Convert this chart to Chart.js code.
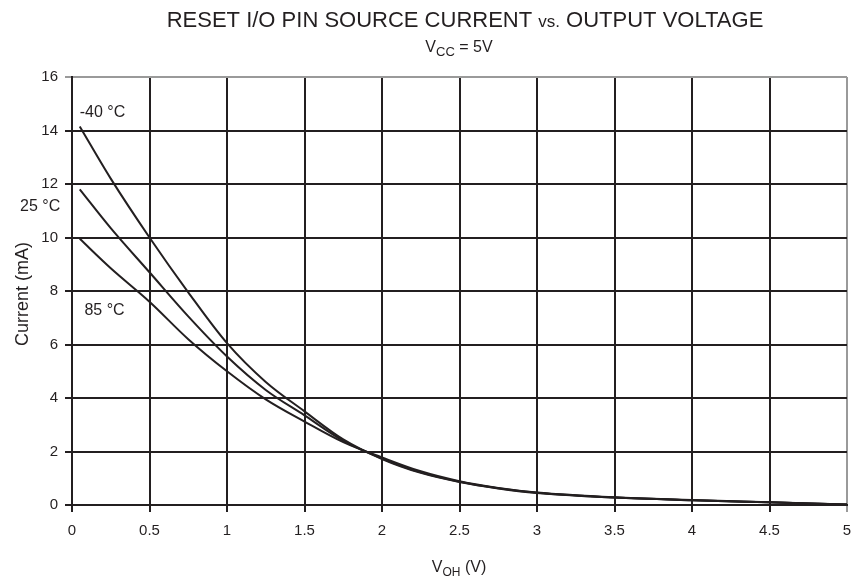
<!DOCTYPE html>
<html>
<head>
<meta charset="utf-8">
<script src="https://cdn.jsdelivr.net/npm/chart.js@4/dist/chart.umd.min.js"></script>
<style>
  html, body { margin: 0; padding: 0; background: #fff; }
  #wrap { width: 858px; height: 582px; }
</style>
</head>
<body>
<div id="wrap"><canvas id="chart" width="858" height="582"></canvas></div>
<script>
// V_OH (V)
const voh = [0.05, 0.25, 0.5, 0.75, 1, 1.25, 1.5, 1.75, 2, 2.25, 2.5, 2.75, 3, 3.5, 4, 4.5, 5];
// current (mA) per temperature
const iMinus40 = [14.15, 12.2, 10.0, 7.95, 6.05, 4.6, 3.5, 2.45, 1.72, 1.2, 0.86, 0.62, 0.45, 0.28, 0.18, 0.1, 0.02];
const i25 = [11.8, 10.35, 8.7, 7.05, 5.55, 4.3, 3.35, 2.4, 1.74, 1.22, 0.87, 0.63, 0.46, 0.28, 0.18, 0.1, 0.02];
const i85 = [9.95, 8.85, 7.6, 6.2, 5.0, 3.95, 3.12, 2.35, 1.78, 1.26, 0.89, 0.64, 0.47, 0.29, 0.19, 0.1, 0.02];
const xTicks = [0, 0.5, 1, 1.5, 2, 2.5, 3, 3.5, 4, 4.5, 5];
const yTicks = [0, 2, 4, 6, 8, 10, 12, 14, 16];

const FONT = 'Liberation Sans, Arial, sans-serif';
const INK = '#231f20';

function toPoints(ys) {
    return voh.map((x, i) => ({ x: x, y: ys[i] }));
}

function series(label, ys) {
    return {
        label: label,
        data: toPoints(ys),
        borderColor: INK,
        borderWidth: 2,
        pointRadius: 0,
        fill: false,
        cubicInterpolationMode: 'monotone'
    };
}

// titles, axis titles and curve labels
const textPlugin = {
    id: 'textPlugin',
    afterDraw(chart) {
        const ctx = chart.ctx;
        const xs = chart.scales.x;
        const ys = chart.scales.y;
        const area = chart.chartArea;
        ctx.save();
        ctx.fillStyle = INK;
        ctx.textBaseline = 'alphabetic';

        // main title, "vs." smaller
        const big = '22px ' + FONT, small = '17px ' + FONT;
        const parts = [['RESET I/O PIN SOURCE CURRENT ', big], ['vs.', small], [' OUTPUT VOLTAGE', big]];
        let w = 0;
        parts.forEach(p => { ctx.font = p[1]; w += ctx.measureText(p[0]).width; });
        let x = 465 - w / 2;
        ctx.textAlign = 'left';
        parts.forEach(p => { ctx.font = p[1]; ctx.fillText(p[0], x, 27); x += ctx.measureText(p[0]).width; });

        // subtitle V_CC = 5V
        drawSub(ctx, 'V', 'CC', ' = 5V', 459, 52, 16, 13);

        // x axis title V_OH (V)
        drawSub(ctx, 'V', 'OH', ' (V)', 459, 572, 16, 12);

        // y axis title
        ctx.save();
        ctx.translate(28, (area.top + area.bottom) / 2 + 3);
        ctx.rotate(-Math.PI / 2);
        ctx.font = '18px ' + FONT;
        ctx.textAlign = 'center';
        ctx.fillText('Current (mA)', 0, 0);
        ctx.restore();

        // curve labels
        ctx.font = '16px ' + FONT;
        ctx.textAlign = 'left';
        ctx.fillText('-40 \u00B0C', xs.getPixelForValue(0.05), ys.getPixelForValue(14.5));
        ctx.fillText('25 \u00B0C', xs.getPixelForValue(-0.335), ys.getPixelForValue(11.0));
        ctx.fillText('85 \u00B0C', xs.getPixelForValue(0.08), ys.getPixelForValue(7.1));
        ctx.restore();
    }
};

function drawSub(ctx, base, sub, rest, cx, y, size, subSize) {
    const f1 = size + 'px ' + FONT, f2 = subSize + 'px ' + FONT;
    ctx.font = f1; const w1 = ctx.measureText(base).width; const w3 = ctx.measureText(rest).width;
    ctx.font = f2; const w2 = ctx.measureText(sub).width;
    let x = cx - (w1 + w2 + w3) / 2;
    ctx.textAlign = 'left';
    ctx.font = f1; ctx.fillText(base, x, y); x += w1;
    ctx.font = f2; ctx.fillText(sub, x, y + 4); x += w2;
    ctx.font = f1; ctx.fillText(rest, x, y);
}

const ctx = document.getElementById('chart').getContext('2d');
new Chart(ctx, {
    type: 'line',
    data: {
        datasets: [
            series('-40 °C', iMinus40),
            series('25 °C', i25),
            series('85 °C', i85)
        ]
    },
    options: {
        responsive: false,
        animation: false,
        layout: { padding: { top: 77, right: 11, left: 0, bottom: 0 } },
        plugins: {
            legend: { display: false },
            title: { display: false },
            tooltip: { enabled: false }
        },
        scales: {
            x: {
                type: 'linear',
                min: 0,
                max: 5,
                afterBuildTicks: axis => { axis.ticks = xTicks.map(v => ({ value: v })); },
                afterFit: axis => {
                    axis.height = 77;
                    axis.paddingLeft = 0;
                    axis.paddingRight = 0;
                },
                grid: {
                    color: c => c.tick && c.tick.value === 5 ? '#9a9a9a' : INK,
                    lineWidth: 2,
                    tickLength: 7
                },
                border: { color: INK, width: 2 },
                ticks: {
                    color: INK,
                    font: { family: FONT, size: 15 },
                    padding: 10,
                    maxRotation: 0,
                    callback: v => String(v)
                }
            },
            y: {
                type: 'linear',
                min: 0,
                max: 16,
                afterBuildTicks: axis => { axis.ticks = yTicks.map(v => ({ value: v })); },
                afterFit: axis => {
                    axis.width = 72;
                    axis.paddingTop = 0;
                    axis.paddingBottom = 0;
                },
                grid: {
                    color: c => c.tick && c.tick.value === 16 ? '#9a9a9a' : INK,
                    lineWidth: 2,
                    tickLength: 7
                },
                border: { color: INK, width: 2 },
                ticks: {
                    color: INK,
                    font: { family: FONT, size: 15 },
                    padding: 7
                }
            }
        }
    },
    plugins: [textPlugin]
});
</script>
</body>
</html>
